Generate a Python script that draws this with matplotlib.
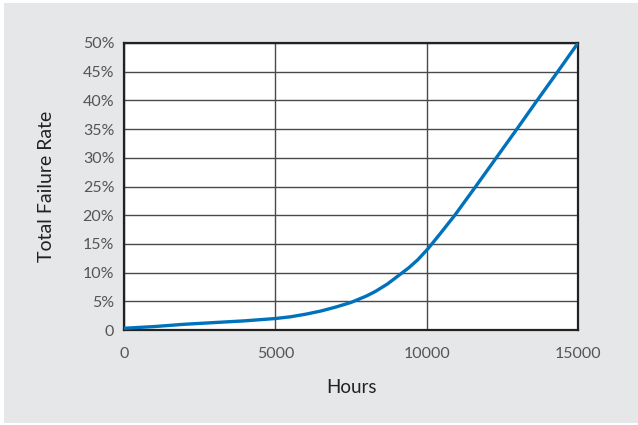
import matplotlib.pyplot as plt
from matplotlib.patches import Rectangle
from matplotlib.ticker import FuncFormatter

# values
hours = [0, 1000, 2000, 3000, 4000, 5000, 5500, 6000, 6500, 7000, 7500, 8000,
         8300, 8700, 9100, 9400, 9700, 10050, 10450, 10930, 11620, 12300,
         12980, 13650, 14330, 15000]
failure_rate = [0.3, 0.6, 1.0, 1.3, 1.6, 2.0, 2.3, 2.75, 3.3, 4.0, 4.8, 5.9,
                6.7, 8.0, 9.6, 10.8, 12.2, 14.2, 16.8, 20.0, 25.0, 30.0,
                35.0, 40.0, 45.0, 50.0]
x_ticks = [0, 5000, 10000, 15000]
y_ticks = [0, 5, 10, 15, 20, 25, 30, 35, 40, 45, 50]

plt.rcParams['font.family'] = ['Lato', 'DejaVu Sans']

fig = plt.figure(figsize=(6.38, 4.25), dpi=100)
fig.patch.set_facecolor('white')
fig.patches.append(Rectangle((4 / 638, 2 / 425), 634 / 638, 420 / 425,
                             transform=fig.transFigure, facecolor='#e6e7e8',
                             edgecolor='none', zorder=-10))

ax = fig.add_axes([124 / 638, 95 / 425, 454 / 638, 287 / 425])
ax.set_zorder(1)
ax.set_facecolor('white')

ax.plot(hours, failure_rate, color='#0072bc', linewidth=2.4,
        solid_capstyle='round', solid_joinstyle='round', zorder=3)

ax.set_xlim(0, 15000)
ax.set_ylim(0, 50)
ax.set_xticks(x_ticks)
ax.set_yticks(y_ticks)
ax.yaxis.set_major_formatter(FuncFormatter(lambda v, p: '0' if v == 0 else f'{v:.0f}%'))

ax.grid(True, color='#4a4a4a', linewidth=1.0)
ax.set_axisbelow(True)
for s in ax.spines.values():
    s.set_color('#222222')
    s.set_linewidth(1.6)

ax.tick_params(axis='both', length=0, labelsize=11.5, labelcolor='#555555')
ax.tick_params(axis='x', pad=12)
ax.tick_params(axis='y', pad=7)

ax.set_xlabel('Hours', fontsize=13.5, color='#222222', labelpad=13)
ax.set_ylabel('Total Failure Rate', fontsize=14, color='#222222', labelpad=20)

fig.savefig('out.png', dpi=100)
